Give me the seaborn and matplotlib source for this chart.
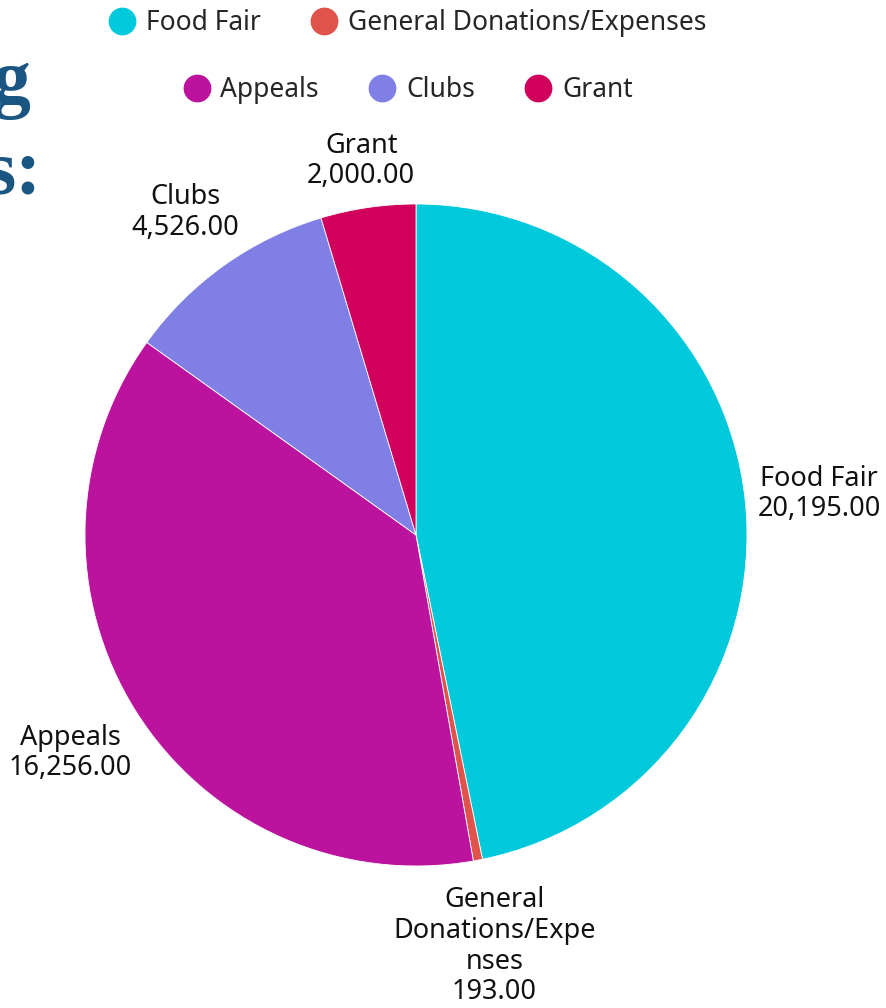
import textwrap
import numpy as np
import matplotlib
matplotlib.use("Agg")
import matplotlib.pyplot as plt
from matplotlib.lines import Line2D
import seaborn as sns

# === Data ===
categories = ["Food Fair", "General Donations/Expenses", "Appeals", "Clubs", "Grant"]
amounts = [20195.00, 193.00, 16256.00, 4526.00, 2000.00]
colors = ["#00C9DB", "#E0534A", "#BC139E", "#7F7FE6", "#D0005C"]
legend_rows = [["Food Fair", "General Donations/Expenses"], ["Appeals", "Clubs", "Grant"]]
title_bits = ["g", "s:"]

# === Theme ===
sns.set_theme(style="white")
plt.rcParams["font.family"] = ["Noto Sans", "DejaVu Sans"]
palette = dict(zip(categories, sns.color_palette(colors)))

W, H = 887, 1008
fig = plt.figure(figsize=(W / 100, H / 100), dpi=100)

# pie axes: center (416, 535) px, radius 331 px
cx, cy, r = 416, 535, 331
ax = fig.add_axes([(cx - r) / W, (H - cy - r) / H, 2 * r / W, 2 * r / H])
wedges, _ = ax.pie(
    amounts,
    colors=[palette[c] for c in categories],
    startangle=90,
    counterclock=False,
    wedgeprops=dict(edgecolor="white", linewidth=0.6),
)
ax.set_xlim(-1, 1)
ax.set_ylim(-1, 1)
ax.set_aspect("equal")
ax.axis("off")


def wrap_label(name, width=14):
    lines = []
    for line in textwrap.wrap(name, width, break_long_words=False):
        lines += [line[i:i + width] for i in range(0, len(line), width)]
    return "\n".join(lines)


# === Outside labels (box kept ~10px off the rim) ===
fig.canvas.draw()
renderer = fig.canvas.get_renderer()
for w, name, val in zip(wedges, categories, amounts):
    mid = np.deg2rad((w.theta1 + w.theta2) / 2)
    x, y = np.cos(mid), np.sin(mid)
    t = ax.text(0, 0, wrap_label(name) + f"\n{val:,.2f}", ha="center", va="center",
                multialignment="center", fontsize=19.5, color="#111111",
                linespacing=1.12, clip_on=False)
    bb = t.get_window_extent(renderer)
    d = r + 10 + abs(bb.width / 2 * x) + abs(bb.height / 2 * y)
    t.set_position((d / r * x, d / r * y))

# === Legend rows ===
for row, yy in zip(legend_rows, [23, 90]):
    handles = [Line2D([], [], marker="o", linestyle="", markersize=19,
                      markerfacecolor=palette[c], markeredgecolor=palette[c]) for c in row]
    fig.legend(handles, row, loc="center", bbox_to_anchor=(408 / W, 1 - yy / H),
               ncol=len(row), frameon=False, fontsize=19, handlelength=1.0,
               handletextpad=0.4, columnspacing=1.9, borderaxespad=0, borderpad=0)

# === Cut-off title ===
for txt, xr, yb in zip(title_bits, [31, 42], [103, 193]):
    fig.text(xr / W, 1 - yb / H, txt, ha="right", va="baseline", fontsize=56,
             fontweight="bold", color="#1B5682", family="Liberation Serif")

fig.savefig("out.png", dpi=100)
